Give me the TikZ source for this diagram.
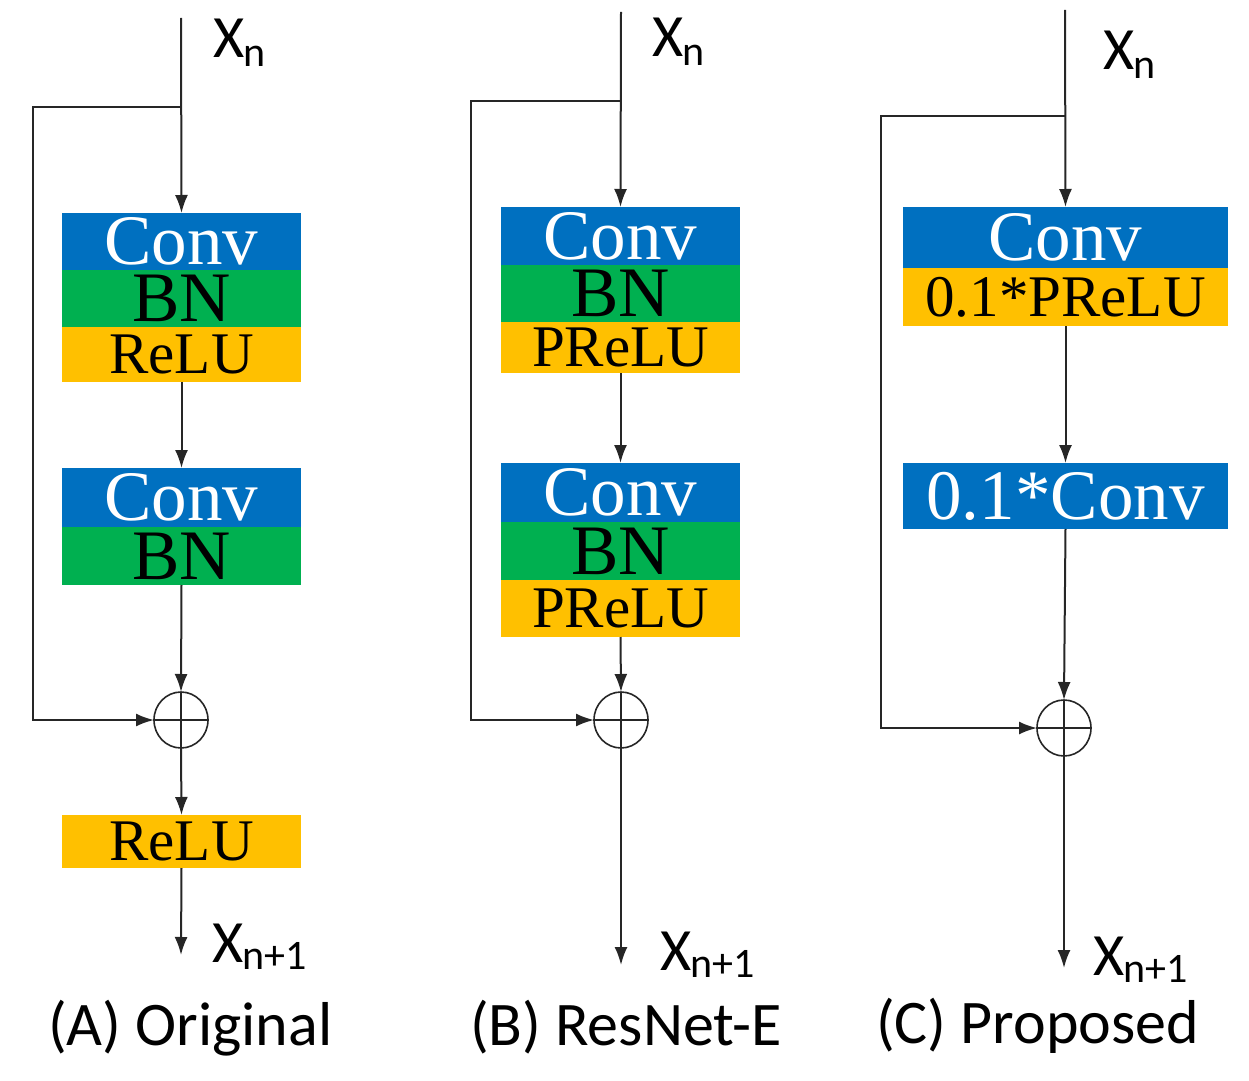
\documentclass[tikz,border=0pt]{standalone}
\usepackage{fontspec}
\setmainfont{Liberation Serif}
\newfontfamily\labfont{Carlito}
\usetikzlibrary{arrows.meta,shapes.geometric}
\definecolor{cblue}{HTML}{0070C0}
\definecolor{cgreen}{HTML}{00B050}
\definecolor{cgold}{HTML}{FFC000}
\definecolor{lncol}{HTML}{262626}
\newcommand\Xlab[2]{{\labfont\fontsize{30}{30}\selectfont X\kern-0.5pt\raisebox{-#2}{\fontsize{21}{21}\selectfont #1}}}
\newcommand\convfont{\fontsize{35.5}{35.5}\selectfont}
\newcommand\actfont{\fontsize{29.5}{29.5}\selectfont}
\begin{document}
\begin{tikzpicture}[x=0.5pt,y=-0.5pt,
  layer/.style={rectangle, inner sep=0pt, outer sep=0pt, anchor=north, minimum width=119.5pt},
  wide/.style={minimum width=162.5pt},
  convl/.style={layer, fill=cblue, text=white, font=\convfont},
  bnl/.style={layer, fill=cgreen, text=black, font=\convfont},
  actl/.style={layer, fill=cgold, text=black, font=\actfont},
  sumnode/.style={ellipse, draw=lncol, line width=0.8pt, minimum width=27pt, minimum height=28pt, inner sep=0pt, outer sep=0pt},
  line/.style={draw=lncol, line width=1pt},
  arr/.style={line, -{Latex[length=9pt,width=6.5pt]}},
  lab/.style={inner sep=0pt, outer sep=0pt, anchor=base west},
  captxt/.style={inner sep=0pt, outer sep=0pt, anchor=base west, font=\labfont\fontsize{31}{31}\selectfont}
]
\useasboundingbox (0,0) rectangle (1249,1081);

% ---------------- (A) Original ----------------
\coordinate (topA) at (181,18);
\coordinate (brA) at (181,107);
\coordinate (cA) at (33,107);
\node[convl, minimum height=28.5pt] (A1c) at (181.5,213) {Conv};
\node[bnl, minimum height=28.5pt] (A1b) at (181.5,270) {BN};
\node[actl, minimum height=27.5pt] (A1r) at (181.5,327) {ReLU};
\node[convl, minimum height=29.5pt] (A2c) at (181.5,468) {Conv};
\node[bnl, minimum height=29pt] (A2b) at (181.5,527) {BN};
\node[sumnode] (sumA) at (181,720) {};
\node[actl, minimum height=26.5pt] (A3r) at (181.5,815) {ReLU};
\coordinate (endA) at (181,955);
\draw[arr] (topA) -- (A1c.north);
\draw[arr] (A1r.south) -- (A2c.north);
\draw[arr] (A2b.south) -- (sumA.north);
\draw[arr] (brA) -- (cA) |- (sumA.west);
\draw[line] (sumA.north) -- (sumA.south) (sumA.west) -- (sumA.east);
\draw[arr] (sumA.south) -- (A3r.north);
\draw[arr] (A3r.south) -- (endA);
\node[lab] (xnA) at (213,58) {\Xlab{n}{4.5pt}};
\node[lab] (xoA) at (212,962) {\Xlab{n+1}{3.5pt}};
\node[captxt] (capA) at (48,1045) {(A) Original};

% ---------------- (B) ResNet-E ----------------
\coordinate (topB) at (621,12);
\coordinate (brB) at (621,101);
\coordinate (cB) at (471,101);
\node[convl, minimum height=29pt] (B1c) at (620.5,207) {Conv};
\node[bnl, minimum height=28.5pt] (B1b) at (620.5,265) {BN};
\node[actl, minimum height=25.5pt] (B1r) at (620.5,322) {PReLU};
\node[convl, minimum height=29.5pt] (B2c) at (620.5,463) {Conv};
\node[bnl, minimum height=29pt] (B2b) at (620.5,522) {BN};
\node[actl, minimum height=28.5pt] (B2r) at (620.5,580) {PReLU};
\node[sumnode] (sumB) at (621,720) {};
\coordinate (endB) at (621,965);
\draw[arr] (topB) -- (B1c.north);
\draw[arr] (B1r.south) -- (B2c.north);
\draw[arr] (B2r.south) -- (sumB.north);
\draw[arr] (brB) -- (cB) |- (sumB.west);
\draw[line] (sumB.north) -- (sumB.south) (sumB.west) -- (sumB.east);
\draw[arr] (sumB.south) -- (endB);
\node[lab] (xnB) at (652,57) {\Xlab{n}{4.5pt}};
\node[lab] (xoB) at (660,970) {\Xlab{n+1}{3.5pt}};
\node[captxt] (capB) at (470,1045) {(B) ResNet-E};

% ---------------- (C) Proposed ----------------
\coordinate (topC) at (1065,10);
\coordinate (brC) at (1065,116);
\coordinate (cC) at (881,116);
\node[convl, wide, minimum height=30.5pt] (C1c) at (1065.5,207) {Conv};
\node[actl, wide, minimum height=29pt] (C1r) at (1065.5,268) {0.1*PReLU};
\node[convl, wide, minimum height=33pt] (C2c) at (1065.5,463) {0.1*Conv};
\node[sumnode] (sumC) at (1064,728) {};
\coordinate (endC) at (1064,968);
\draw[arr] (topC) -- (C1c.north);
\draw[arr] (C1r.south) -- (C2c.north);
\draw[arr] (C2c.south) -- (sumC.north);
\draw[arr] (brC) -- (cC) |- (sumC.west);
\draw[line] (sumC.north) -- (sumC.south) (sumC.west) -- (sumC.east);
\draw[arr] (sumC.south) -- (endC);
\node[lab] (xnC) at (1103,70) {\Xlab{n}{4.5pt}};
\node[lab] (xoC) at (1093,975) {\Xlab{n+1}{3.5pt}};
\node[captxt] (capC) at (876,1043) {(C) Proposed};
\end{tikzpicture}
\end{document}
